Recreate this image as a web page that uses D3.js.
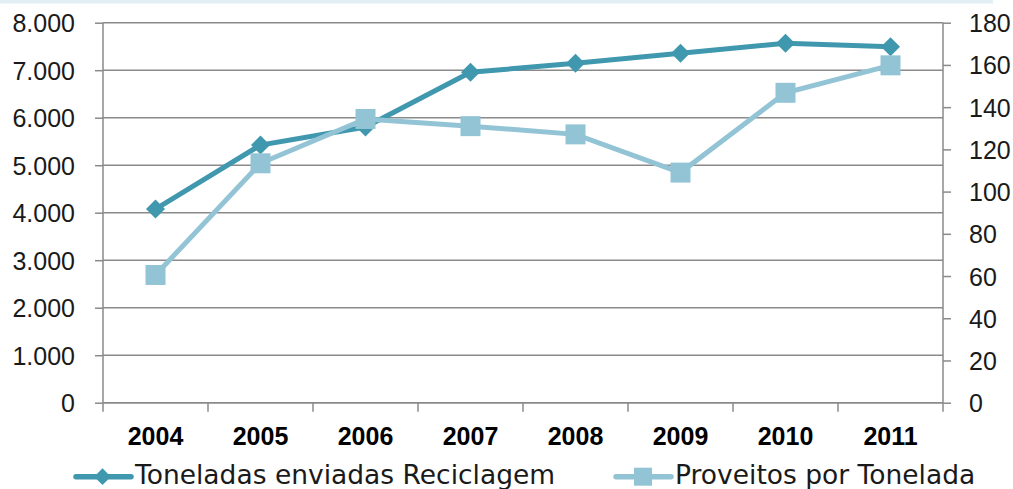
<!DOCTYPE html>
<html><head><meta charset="utf-8">
<script src="https://cdn.jsdelivr.net/npm/d3@7"></script>
<style>body{margin:0;background:#fff;}svg{display:block;}</style>
</head><body>
<svg id="c" width="1013" height="489"></svg>
<script>
const years = ["2004","2005","2006","2007","2008","2009","2010","2011"];
const toneladas = [4076, 5425, 5804, 6956, 7145, 7356, 7566, 7495];
const proveitos = [60.5, 113.4, 134.4, 131, 127.1, 109, 146.8, 159.8];
const leftTicks = [0,1000,2000,3000,4000,5000,6000,7000,8000];
const rightTicks = [0,20,40,60,80,100,120,140,160,180];
const seriesNames = ["Toneladas enviadas Reciclagem","Proveitos por Tonelada"];

const svg = d3.select("#c");
const L = 103, R = 943, T = 22.7, B = 402.7;
const gray = "#8a8a8a", dark = "#4098ae", light = "#93c4d6";
const fmt = d => d3.format(",")(d).replace(/,/g, ".");
const tickFont = "Liberation Sans, Arial, sans-serif";

svg.append("rect").attr("x",0).attr("y",0).attr("width",993).attr("height",3.5).attr("fill","#e1eff5");

const x = d3.scaleBand().domain(years).range([L, R]).padding(0);
const yL = d3.scaleLinear().domain([0, 8000]).range([B, T]);
const yR = d3.scaleLinear().domain([0, 180]).range([B, T]);

// gridlines
svg.append("g").selectAll("line").data(leftTicks).join("line")
  .attr("x1", L).attr("x2", R).attr("y1", d => yL(d)).attr("y2", d => yL(d))
  .attr("stroke", gray).attr("stroke-width", 1.5);

// left axis
const la = svg.append("g").attr("transform", `translate(${L},0)`)
  .call(d3.axisLeft(yL).tickValues(leftTicks).tickSize(8).tickPadding(20).tickFormat(fmt));
// right axis
const ra = svg.append("g").attr("transform", `translate(${R},0)`)
  .call(d3.axisRight(yR).tickValues(rightTicks).tickSize(8).tickPadding(18));
[la, ra].forEach(g => {
  g.select(".domain").attr("d", null).attr("stroke", "none");
  g.selectAll(".tick line").attr("stroke", gray).attr("stroke-width", 1.5);
  g.selectAll(".tick text").attr("font-family", tickFont).attr("font-size", 25)
    .attr("fill", "#1a1a1a").attr("dy", "0.36em");
});
svg.append("line").attr("x1", L).attr("x2", L).attr("y1", T).attr("y2", B).attr("stroke", gray).attr("stroke-width", 1.5);
svg.append("line").attr("x1", R).attr("x2", R).attr("y1", T).attr("y2", B).attr("stroke", gray).attr("stroke-width", 1.5);

// bottom axis
const ba = svg.append("g").attr("transform", `translate(0,${B})`)
  .call(d3.axisBottom(x).tickSize(0).tickPadding(25));
ba.select(".domain").attr("stroke", gray).attr("stroke-width", 1.5).attr("d", `M${L},0H${R}`);
ba.selectAll(".tick text").attr("font-family", tickFont).attr("font-weight", "bold")
  .attr("font-size", 25).attr("fill", "#000");
const bounds = years.map(d => x(d)).concat([R]);
svg.append("g").selectAll("line").data(bounds).join("line")
  .attr("x1", d => d).attr("x2", d => d).attr("y1", B).attr("y2", B + 9)
  .attr("stroke", gray).attr("stroke-width", 1.5);

const cx = d => x(d) + x.bandwidth() / 2;

// series 1
const data1 = years.map((d, i) => ({ year: d, v: toneladas[i] }));
svg.append("path").datum(data1)
  .attr("d", d3.line().x(d => cx(d.year)).y(d => yL(d.v)))
  .attr("fill", "none").attr("stroke", dark).attr("stroke-width", 5);
svg.append("g").selectAll("path").data(data1).join("path")
  .attr("d", d3.symbol().type(d3.symbolSquare).size(180))
  .attr("transform", d => `translate(${cx(d.year)},${yL(d.v)}) rotate(45)`)
  .attr("fill", dark);

// series 2
const data2 = years.map((d, i) => ({ year: d, v: proveitos[i] }));
svg.append("path").datum(data2)
  .attr("d", d3.line().x(d => cx(d.year)).y(d => yR(d.v)))
  .attr("fill", "none").attr("stroke", light).attr("stroke-width", 5);
svg.append("g").selectAll("rect").data(data2).join("rect")
  .attr("x", d => cx(d.year) - 10).attr("y", d => yR(d.v) - 10)
  .attr("width", 20).attr("height", 20).attr("fill", light);

// legend
const leg = [
  { name: seriesNames[0], color: dark, x0: 76, shape: "diamond" },
  { name: seriesNames[1], color: light, x0: 616, shape: "square" }
];
const ly = 476.7;
leg.forEach(l => {
  const g = svg.append("g");
  g.append("line").attr("x1", l.x0).attr("x2", l.x0 + 55).attr("y1", ly).attr("y2", ly)
    .attr("stroke", l.color).attr("stroke-width", 5.5).attr("stroke-linecap", "round");
  if (l.shape === "diamond") {
    g.append("path").attr("d", d3.symbol().type(d3.symbolSquare).size(140))
      .attr("transform", `translate(${l.x0 + 26.5},${ly}) rotate(45)`).attr("fill", l.color);
  } else {
    g.append("rect").attr("x", l.x0 + 27 - 9).attr("y", ly - 9).attr("width", 18).attr("height", 18).attr("fill", l.color);
  }
  g.append("text").attr("x", l.x0 + 59).attr("y", 484).text(l.name)
    .attr("font-family", "DejaVu Sans, sans-serif").attr("font-size", 26.5).attr("fill", "#1a1a1a");
});
</script>
</body></html>
